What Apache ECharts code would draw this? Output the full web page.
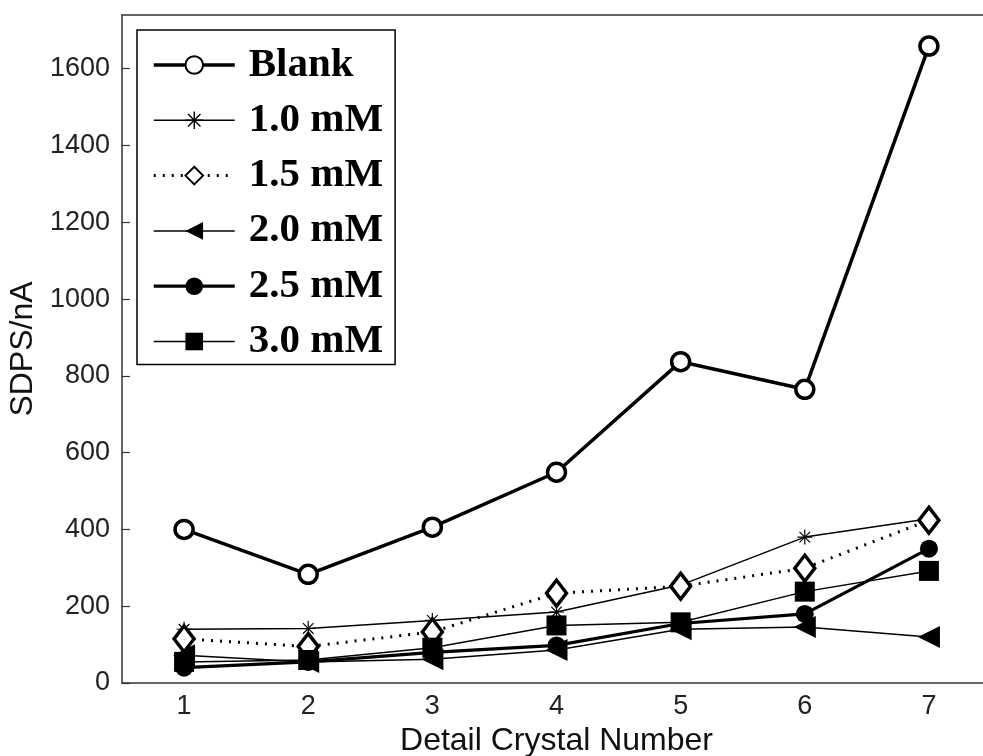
<!DOCTYPE html>
<html>
<head>
<meta charset="utf-8">
<script src="https://cdn.jsdelivr.net/npm/echarts@6/dist/echarts.min.js"></script>
<style>
html,body{margin:0;padding:0;background:#fff;}
#c{width:983px;height:756px;}
</style>
</head>
<body>
<div id="c"></div>
<script>
const categories = ['1','2','3','4','5','6','7'];
const blank = [400, 283, 406, 549, 837, 765, 1659];
const mM10 = [140, 142, 163, 185, 255, 380, 428];
const mM15 = [115, 95, 133, 234, 252, 299, 424];
const mM20 = [72, 55, 62, 86, 140, 146, 120];
const mM25 = [40, 55, 80, 98, 155, 180, 350];
const mM30 = [55, 60, 92, 150, 158, 238, 292];
const seriesNames = ['Blank','1.0 mM','1.5 mM','2.0 mM','2.5 mM','3.0 mM'];

const star = 'path://M0 9.2L20 9.2L20 10.8L0 10.8Z M9.2 0L10.8 0L10.8 20L9.2 20Z M2.4 3.5L3.5 2.4L17.6 16.5L16.5 17.6Z M16.5 2.4L17.6 3.5L3.5 17.6L2.4 16.5Z';

const chart = echarts.init(document.getElementById('c'));
const axisFont = {fontFamily:'Liberation Sans, Arial', fontSize:27, color:'#222', formatter: v => String(v)};
chart.setOption({
  animation:false,
  backgroundColor:'#fff',
  grid:{left:122, top:15, right:-8, bottom:73, outerBoundsMode:'none', containLabel:false},
  legend:{
    orient:'vertical', left:137, top:30,
    padding:[13,12,1,15], itemGap:11.3, itemWidth:81, itemHeight:22,
    backgroundColor:'#fff', borderColor:'#000', borderWidth:1.5,
    textStyle:{fontFamily:'Liberation Serif, Times New Roman', fontWeight:'bold', fontSize:41, lineHeight:44, color:'#000', padding:[0,0,0,9]},
    data:[
      {name:seriesNames[0], lineStyle:{width:3.5}},
      {name:seriesNames[1], lineStyle:{width:1.5}},
      {name:seriesNames[2], lineStyle:{width:3}},
      {name:seriesNames[3], lineStyle:{width:1.5}},
      {name:seriesNames[4], lineStyle:{width:3.2}},
      {name:seriesNames[5], lineStyle:{width:1.5}}
    ]
  },
  xAxis:[{
    type:'category', data:categories, boundaryGap:true,
    name:'Detail Crystal Number', nameLocation:'middle', nameGap:42,
    nameTextStyle:{fontFamily:'Liberation Sans, Arial', fontSize:32, color:'#111'},
    axisLine:{lineStyle:{color:'#333', width:1.5}},
    axisTick:{alignWithLabel:true, inside:true, length:8, lineStyle:{color:'#333', width:1.2}},
    axisLabel:{...axisFont, margin:10},
    splitLine:{show:false}
  },{
    type:'category', data:categories, position:'top',
    axisLine:{lineStyle:{color:'#333', width:1.5}},
    axisTick:{show:false}, axisLabel:{show:false}, splitLine:{show:false}
  }],
  yAxis:{
    type:'value', min:0, max:1740, interval:200,
    name:'SDPS/nA', nameLocation:'middle', nameGap:74,
    nameTextStyle:{fontFamily:'Liberation Sans, Arial', fontSize:32, color:'#111'},
    axisLine:{show:true, lineStyle:{color:'#333', width:1.5}},
    axisTick:{show:true, inside:true, length:8, lineStyle:{color:'#333', width:1.2}},
    axisLabel:{...axisFont, margin:12, showMaxLabel:false},
    splitLine:{show:false}
  },
  series:[
    {name:'Blank', type:'line', data:blank, symbol:'circle', symbolSize:18,
     lineStyle:{color:'#000', width:3.5}, itemStyle:{color:'#fff', borderColor:'#000', borderWidth:3.5}, z:2},
    {name:'1.0 mM', type:'line', data:mM10, symbol:star, symbolSize:15,
     lineStyle:{color:'#000', width:1.5}, itemStyle:{color:'#000'}, z:3},
    {name:'1.5 mM', type:'line', data:mM15, symbol:'diamond', symbolSize:[20,26],
     lineStyle:{color:'#000', width:3, type:[2,7]}, itemStyle:{color:'#fff', borderColor:'#000', borderWidth:3.5}, z:4},
    {name:'2.0 mM', type:'line', data:mM20, symbol:'triangle', symbolRotate:90, symbolSize:[22,22],
     lineStyle:{color:'#000', width:1.5}, itemStyle:{color:'#000'}, z:5},
    {name:'2.5 mM', type:'line', data:mM25, symbol:'circle', symbolSize:18,
     lineStyle:{color:'#000', width:3.2}, itemStyle:{color:'#000'}, z:6},
    {name:'3.0 mM', type:'line', data:mM30, symbol:'rect', symbolSize:20,
     lineStyle:{color:'#000', width:1.5}, itemStyle:{color:'#000'}, z:7}
  ]
});
</script>
</body>
</html>
